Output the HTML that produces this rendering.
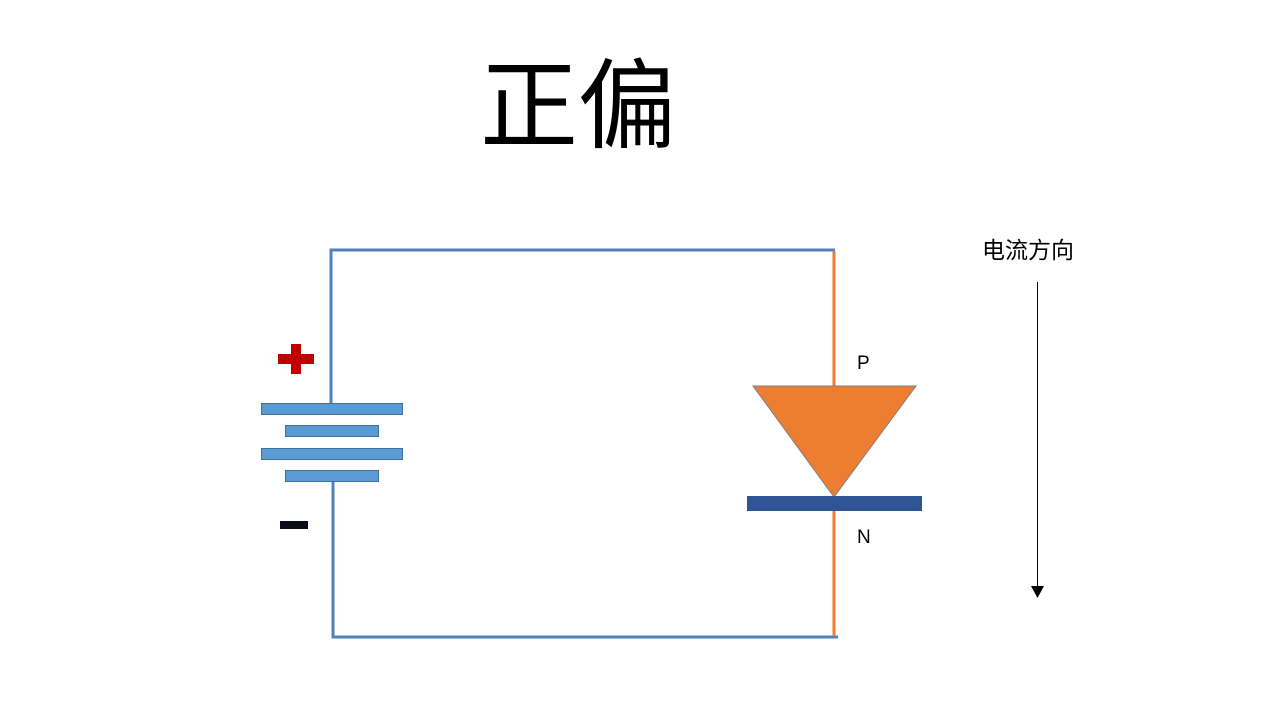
<!DOCTYPE html>
<html><head><meta charset="utf-8"><style>
html,body{margin:0;padding:0;background:#fff;width:1280px;height:720px;overflow:hidden}
svg{display:block}
</style></head><body>
<svg width="1280" height="720" xmlns="http://www.w3.org/2000/svg">
<text x="578" y="140" text-anchor="middle" font-family="Liberation Sans, Noto Sans CJK SC, sans-serif" font-size="98" fill="#000">正偏</text>
<!-- wires -->
<path d="M331,403 V250 H835" fill="none" stroke="#4f81bd" stroke-width="3"/>
<path d="M333,481 V637 H838" fill="none" stroke="#4f81bd" stroke-width="3"/>
<line x1="834" y1="251" x2="834" y2="387" stroke="#ed7d31" stroke-width="3"/>
<line x1="834" y1="510" x2="834" y2="636" stroke="#ed7d31" stroke-width="3"/>
<!-- battery -->
<rect x="261.5" y="403.5" width="141" height="11" fill="#5b9bd5" stroke="#41719c"/>
<rect x="285.5" y="425.5" width="93" height="11" fill="#5b9bd5" stroke="#41719c"/>
<rect x="261.5" y="448.5" width="141" height="11" fill="#5b9bd5" stroke="#41719c"/>
<rect x="285.5" y="470.5" width="93" height="11" fill="#5b9bd5" stroke="#41719c"/>
<!-- plus -->
<rect x="278" y="354" width="36" height="10" fill="#c00000"/>
<rect x="291" y="344" width="10" height="30" fill="#c00000"/>
<!-- minus -->
<rect x="280" y="521" width="28" height="8" fill="#0d0d1a"/>
<!-- diode -->
<polygon points="753,386 916,386 834,497" fill="#ed7d31" stroke="#7f7f7f" stroke-width="1"/>
<rect x="747" y="496" width="175" height="15" fill="#2f5597"/>
<text x="857" y="369" font-family="Liberation Sans, sans-serif" font-size="19" fill="#000">P</text>
<text x="857" y="543" font-family="Liberation Sans, sans-serif" font-size="19" fill="#000">N</text>
<!-- current direction -->
<text x="1028" y="258" text-anchor="middle" font-family="Liberation Sans, Noto Sans CJK SC, sans-serif" font-size="23" fill="#000">电流方向</text>
<line x1="1037.5" y1="282" x2="1037.5" y2="588" stroke="#000" stroke-width="1"/>
<polygon points="1031,586 1044,586 1037.5,598" fill="#000"/>
</svg>
</body></html>
